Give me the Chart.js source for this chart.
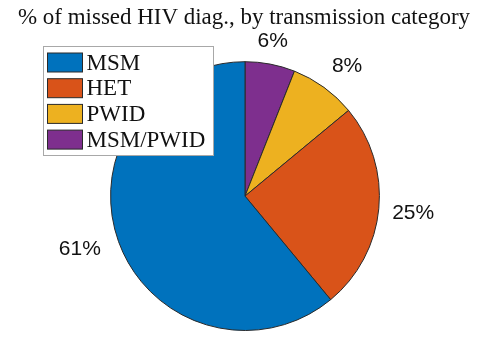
<!DOCTYPE html>
<html>
<head>
<meta charset="utf-8">
<script src="https://cdn.jsdelivr.net/npm/chart.js@4"></script>
<style>
  html, body { margin: 0; padding: 0; background: #ffffff; }
  #wrap { width: 493px; height: 337px; }
</style>
</head>
<body>
<div id="wrap"><canvas id="c" width="493" height="337"></canvas></div>
<script>
// Transmission categories, their share of missed diagnoses (%), and slice colours
const categories = ['MSM', 'HET', 'PWID', 'MSM/PWID'];
const shares = [61, 25, 8, 6];
const sliceColors = ['#0072BD', '#D95319', '#EDB120', '#7E2F8E'];
const titleText = '% of missed HIV diag., by transmission category';

// Chart.js lays slices clockwise from 12 o'clock; feed them reversed so the
// first category runs counter-clockwise from the top.
const order = categories.map((_, i) => i).reverse();

// Serif heading across the top, spread to a fixed width
const headline = {
  id: 'headline',
  afterDraw(chart) {
    const ctx = chart.ctx;
    const span = 452, cx = 244, baseline = 23.5;
    ctx.save();
    ctx.font = '23px "Liberation Serif", "Times New Roman", serif';
    ctx.fillStyle = '#111111';
    ctx.textAlign = 'center';
    ctx.textBaseline = 'alphabetic';
    const sx = span / ctx.measureText(titleText).width;
    ctx.translate(cx, baseline);
    ctx.scale(sx, 1);
    ctx.fillText(titleText, 0, 0);
    ctx.restore();
  }
};

// Percentage labels just outside each slice, aligned away from the pie
const sliceLabels = {
  id: 'sliceLabels',
  afterDatasetsDraw(chart) {
    const ctx = chart.ctx;
    const meta = chart.getDatasetMeta(0);
    const size = 21;
    const capH = size * 0.716;
    ctx.save();
    ctx.font = `${size}px "Liberation Sans", Arial, sans-serif`;
    ctx.fillStyle = '#111111';
    ctx.textBaseline = 'alphabetic';
    meta.data.forEach((arc, i) => {
      const p = arc.getProps(['x', 'y', 'startAngle', 'endAngle', 'outerRadius'], true);
      const mid = (p.startAngle + p.endAngle) / 2;
      const dx = Math.cos(mid), dy = Math.sin(mid);
      const ax = p.x + dx * p.outerRadius * 1.1;
      const ay = p.y + dy * p.outerRadius * 1.1;
      let tx = ax, ty;
      if (Math.abs(dx) < 0.35) ctx.textAlign = 'center';
      else if (dx > 0) ctx.textAlign = 'left';
      else { ctx.textAlign = 'right'; tx = ax - 5; }
      if (dy < -0.5) ty = ay - 4;
      else if (dy > 0.5) ty = ay + capH + 4;
      else ty = ay + capH / 2 + 1;
      const v = chart.data.datasets[0].data[i];
      ctx.fillText(v + '%', tx, ty);
    });
    ctx.restore();
  }
};

// Boxed legend in the upper-left corner, in category order
const boxLegend = {
  id: 'boxLegend',
  afterDraw(chart) {
    const ctx = chart.ctx;
    const x0 = 43.5, y0 = 46.5, w = 170, h = 109;
    const rowH = 25.7;
    ctx.save();
    ctx.fillStyle = '#ffffff';
    ctx.fillRect(x0, y0, w, h);
    ctx.strokeStyle = '#a8a8a8';
    ctx.lineWidth = 1;
    ctx.strokeRect(x0, y0, w, h);
    ctx.font = '23px "Liberation Serif", "Times New Roman", serif';
    ctx.textAlign = 'left';
    ctx.textBaseline = 'alphabetic';
    categories.forEach((name, i) => {
      const top = 53 + i * rowH;
      ctx.fillStyle = sliceColors[i];
      ctx.fillRect(47.5, top, 35, 19);
      ctx.strokeStyle = '#2a2a2a';
      ctx.strokeRect(47.5, top, 35, 19);
      ctx.fillStyle = '#111111';
      ctx.fillText(name, 86.5, top + 16.5);
    });
    ctx.restore();
  }
};

new Chart(document.getElementById('c'), {
  type: 'pie',
  data: {
    labels: order.map(i => categories[i]),
    datasets: [{
      data: order.map(i => shares[i]),
      backgroundColor: order.map(i => sliceColors[i]),
      borderColor: '#2a2a2a',
      borderWidth: 1
    }]
  },
  options: {
    responsive: false,
    animation: false,
    devicePixelRatio: 1,
    layout: { padding: { left: 100, right: 103, top: 61.2, bottom: 6 } },
    plugins: {
      legend: { display: false },
      tooltip: { enabled: false },
      title: { display: false }
    }
  },
  plugins: [headline, sliceLabels, boxLegend]
});
</script>
</body>
</html>
